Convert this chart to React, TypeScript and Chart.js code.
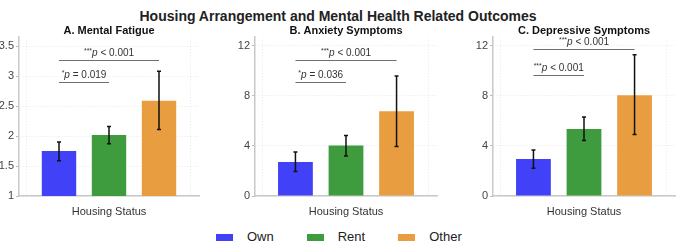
import React, { useEffect, useRef } from 'react';
import { Chart, registerables } from 'chart.js';

Chart.register(...registerables);

const FONT = '"Liberation Sans", Arial, Helvetica, sans-serif';

// Housing groups and their colours
const categories = ['Own', 'Rent', 'Other'];
const groupColors = ['#4141f8', '#3e9b3e', '#e99d41'];

// A. Mental fatigue: means and 95% CI bounds
const fatigueMeans = [1.75, 2.02, 2.59];
const fatigueLow = [1.59, 1.87, 2.11];
const fatigueHigh = [1.9, 2.16, 3.08];
const fatigueTicks = [1, 3.5, 0.5, 3.65]; // min, last tick, step, axis max

// B. Anxiety symptoms
const anxietyMeans = [2.72, 4.03, 6.78];
const anxietyLow = [1.95, 3.2, 3.95];
const anxietyHigh = [3.52, 4.83, 9.6];
const anxietyTicks = [0, 12, 4, 12.7];

// C. Depressive symptoms
const depressionMeans = [2.96, 5.36, 8.06];
const depressionLow = [2.22, 4.43, 4.91];
const depressionHigh = [3.68, 6.32, 11.3];
const depressionTicks = [0, 12, 4, 12.7];

// Pairwise comparisons: [from group, to group, bracket height, stars, p text]
type Bracket = [number, number, number, string, string];
const fatigueBrackets: Bracket[] = [
  [0, 2, 3.27, '***', ' < 0.001'],
  [0, 1, 2.91, '*', ' = 0.019'],
];
const anxietyBrackets: Bracket[] = [
  [0, 2, 10.86, '***', ' < 0.001'],
  [0, 1, 9.15, '*', ' = 0.036'],
];
const depressionBrackets: Bracket[] = [
  [0, 2, 11.74, '***', ' < 0.001'],
  [0, 1, 9.7, '***', ' < 0.001'],
];

interface Panel {
  title: string;
  means: number[];
  low: number[];
  high: number[];
  ticks: number[];
  brackets: Bracket[];
  left: number;
  width: number;
  axisWidth: number;
  padRight: number;
}

const panels: Panel[] = [
  { title: 'A. Mental Fatigue', means: fatigueMeans, low: fatigueLow, high: fatigueHigh, ticks: fatigueTicks, brackets: fatigueBrackets, left: 0, width: 220, axisWidth: 19, padRight: 21 },
  { title: 'B. Anxiety Symptoms', means: anxietyMeans, low: anxietyLow, high: anxietyHigh, ticks: anxietyTicks, brackets: anxietyBrackets, left: 220, width: 225, axisWidth: 35, padRight: 8 },
  { title: 'C. Depressive Symptoms', means: depressionMeans, low: depressionLow, high: depressionHigh, ticks: depressionTicks, brackets: depressionBrackets, left: 450, width: 226, axisWidth: 43, padRight: 1 },
];

const CANVAS_TOP = 22;
const CANVAS_HEIGHT = 197;
const X_AXIS_HEIGHT = 23;

function makeOverlay(panel: Panel) {
  return {
    id: 'overlay',
    beforeDatasetsDraw(chart: Chart) {
      const { ctx, chartArea } = chart;
      ctx.save();
      ctx.strokeStyle = 'rgba(0,0,0,0.09)';
      ctx.lineWidth = 1;
      ctx.setLineDash([1, 2]);
      [chartArea.left + 7.5, chartArea.right - 8.5].forEach((gx) => {
        ctx.beginPath();
        ctx.moveTo(gx, chartArea.top);
        ctx.lineTo(gx, chartArea.bottom);
        ctx.stroke();
      });
      ctx.restore();
    },
    afterDatasetsDraw(chart: Chart) {
      const { ctx } = chart;
      const xs = chart.scales.x;
      const ys = chart.scales.y;
      ctx.save();
      // error bars
      ctx.strokeStyle = '#111';
      ctx.lineWidth = 1.5;
      panel.low.forEach((lo, i) => {
        const px = xs.getPixelForValue(i);
        const y1 = ys.getPixelForValue(lo);
        const y2 = ys.getPixelForValue(panel.high[i]);
        ctx.beginPath();
        ctx.moveTo(px, y1);
        ctx.lineTo(px, y2);
        ctx.moveTo(px - 2, y1);
        ctx.lineTo(px + 2, y1);
        ctx.moveTo(px - 2, y2);
        ctx.lineTo(px + 2, y2);
        ctx.stroke();
      });
      // significance brackets
      panel.brackets.forEach(([from, to, level, stars, rest]) => {
        const x1 = xs.getPixelForValue(from);
        const x2 = xs.getPixelForValue(to);
        const py = Math.round(ys.getPixelForValue(level)) + 0.5;
        ctx.strokeStyle = '#6f6f6f';
        ctx.lineWidth = 1;
        ctx.beginPath();
        ctx.moveTo(x1, py);
        ctx.lineTo(x2, py);
        ctx.stroke();

        const starFont = `7px ${FONT}`;
        const pFont = `italic 10px ${FONT}`;
        const restFont = `10px ${FONT}`;
        ctx.font = starFont;
        const ws = ctx.measureText(stars).width;
        ctx.font = pFont;
        const wp = ctx.measureText('p').width;
        ctx.font = restFont;
        const wr = ctx.measureText(rest).width;
        let tx = (x1 + x2) / 2 - (ws + wp + wr) / 2;
        const base = py - 5;
        ctx.fillStyle = '#333';
        ctx.textAlign = 'left';
        ctx.textBaseline = 'alphabetic';
        ctx.font = starFont;
        ctx.fillText(stars, tx, base - 3);
        tx += ws;
        ctx.font = pFont;
        ctx.fillText('p', tx, base);
        tx += wp;
        ctx.font = restFont;
        ctx.fillText(rest, tx, base);
      });
      ctx.restore();
    },
  };
}

function PanelChart({ panel }: { panel: Panel }) {
  const ref = useRef<HTMLCanvasElement | null>(null);

  useEffect(() => {
    if (!ref.current) return;
    const [yMin, lastTick, step, yMax] = panel.ticks;
    const chart = new Chart(ref.current, {
      type: 'bar',
      data: {
        datasets: [
          {
            label: panel.title,
            data: panel.means.map((v, i) => ({ x: i, y: v })),
            backgroundColor: groupColors,
            borderWidth: 0,
            barPercentage: 0.86,
            categoryPercentage: 1,
          },
        ],
      },
      options: {
        animation: false,
        responsive: false,
        devicePixelRatio: 1,
        layout: { padding: { top: 0, right: panel.padRight, bottom: 0, left: 0 } },
        plugins: {
          legend: { display: false },
          tooltip: { enabled: false },
          title: {
            display: true,
            text: panel.title,
            fullSize: false,
            color: '#111',
            font: { family: FONT, size: 11, weight: 'bold' },
            padding: { top: 2, bottom: 0 },
          },
        },
        scales: {
          x: {
            type: 'linear',
            offset: false,
            min: -0.8,
            max: 2.8,
            ticks: { display: false },
            grid: { display: false },
            border: { display: true, color: '#c8c8c8', width: 1.5 },
            title: {
              display: true,
              text: 'Housing Status',
              color: '#333',
              font: { family: FONT, size: 11 },
              padding: { top: 0, bottom: 0 },
            },
            afterFit: (scale: any) => {
              scale.height = X_AXIS_HEIGHT;
            },
          },
          y: {
            min: yMin,
            max: yMax,
            ticks: {
              stepSize: step,
              includeBounds: false,
              color: '#444',
              padding: 2,
              font: { family: FONT, size: 11 },
              callback: (v: any) => (Number(v) <= lastTick ? String(v) : ''),
            },
            grid: {
              color: 'rgba(0,0,0,0.09)',
              tickColor: '#bbbbbb',
              tickLength: 3,
              tickBorderDash: [],
            },
            border: { display: true, color: '#c8c8c8', width: 1.5, dash: [1, 2] },
            afterFit: (scale: any) => {
              scale.width = panel.axisWidth;
            },
          },
        },
      },
      plugins: [makeOverlay(panel)],
    } as any);
    return () => chart.destroy();
  }, [panel]);

  return (
    <canvas
      ref={ref}
      width={panel.width}
      height={CANVAS_HEIGHT}
      style={{ position: 'absolute', left: panel.left, top: CANVAS_TOP, width: panel.width, height: CANVAS_HEIGHT }}
    />
  );
}

export default function App() {
  return (
    <div
      style={{
        position: 'absolute',
        left: 0,
        top: 0,
        width: 676,
        height: 246,
        background: '#fff',
        fontFamily: FONT,
        overflow: 'hidden',
      }}
    >
      <div
        style={{
          position: 'absolute',
          top: 7,
          left: 0,
          width: 676,
          textAlign: 'center',
          fontSize: 14,
          fontWeight: 'bold',
          lineHeight: '18px',
          color: '#222',
        }}
      >
        Housing Arrangement and Mental Health Related Outcomes
      </div>
      {panels.map((p) => (
        <PanelChart key={p.title} panel={p} />
      ))}
      <div
        style={{
          position: 'absolute',
          top: 229,
          left: 216,
          display: 'flex',
          alignItems: 'center',
          gap: 33,
          fontSize: 13,
          lineHeight: '16px',
          color: '#222',
        }}
      >
        {categories.map((c, i) => (
          <div key={c} style={{ display: 'flex', alignItems: 'center' }}>
            <span style={{ display: 'inline-block', width: 17, height: 7, background: groupColors[i], marginRight: 14 }} />
            <span>{c}</span>
          </div>
        ))}
      </div>
    </div>
  );
}
